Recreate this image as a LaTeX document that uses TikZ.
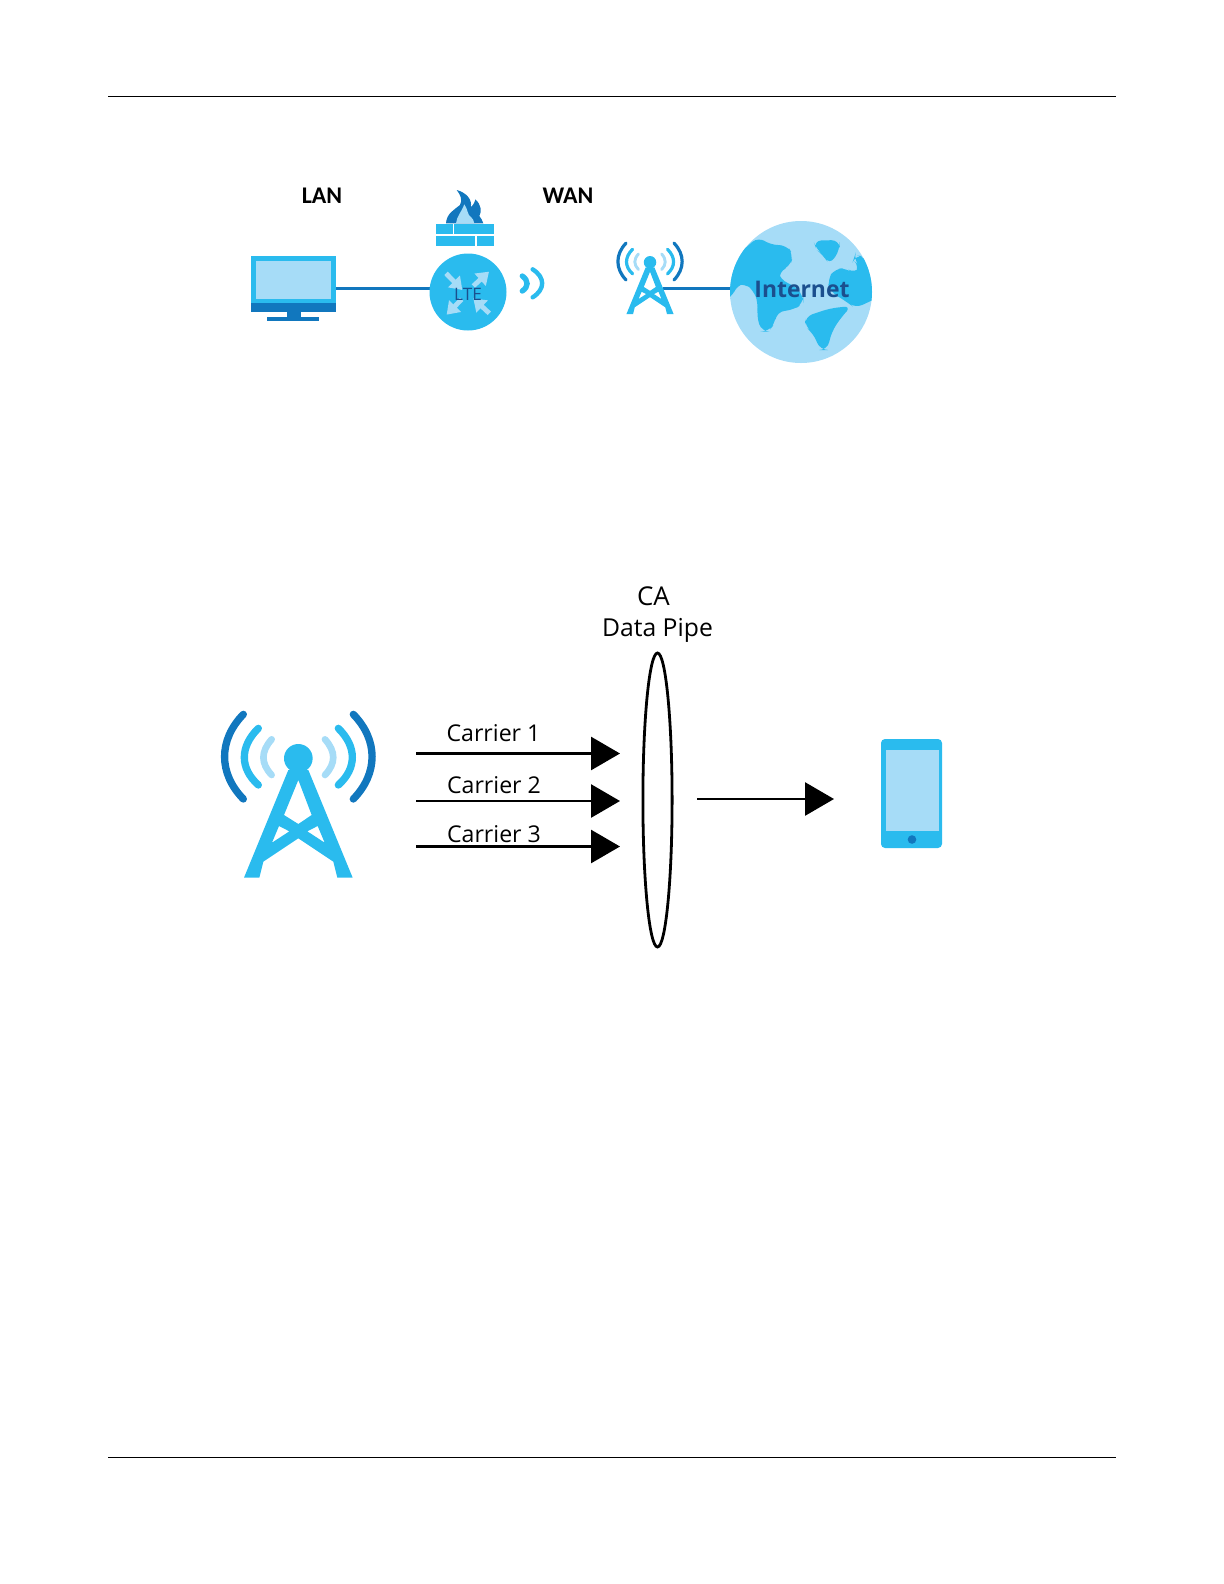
\documentclass[tikz,border=0pt]{standalone}
\usepackage{fontspec}
\setmainfont{Open Sans}
\newfontfamily\lanfont{Carlito}
\usetikzlibrary{arrows.meta,shapes.geometric}
\definecolor{zcyan}{HTML}{2ABBEE}
\definecolor{zdark}{HTML}{1177BE}
\definecolor{zlight}{HTML}{A6DCF7}
\definecolor{ztext}{HTML}{1B4F8E}
\tikzset{
  rule/.style={draw=black,line width=0.5bp},
  link/.style={draw=zdark,line width=1.5bp},
  bigarrow/.style={draw=black,line width=1.4bp,-{Triangle[length=14.5bp,width=16.5bp]}},
  smallicon/.style={shift={(#1)},x=0.16667bp,y=-0.16667bp},
  netlabel/.style={inner sep=0pt,text=black,font=\lanfont\bfseries\fontsize{12}{14}\selectfont},
  calabel/.style={inner sep=0pt,text=black,font=\fontsize{11.6}{14}\selectfont},
  ltearrow/.style={draw=zlight,line width=2.4bp,-{Triangle[length=6bp,width=8bp]}},
}
\newcommand{\towericon}[3]{%
  \begin{scope}[shift={(#1,#2)},x=#3*0.5bp,y=-#3*0.5bp,line cap=round]
    \fill[zcyan,even odd rule] (265,240)--(132,563)--(178,563)--(190,515)--(295,445)--(400,515)--(412,563)--(458,563)--(325,240)--cycle
      (295,270)--(335,375)--(295,402)--(252,375)--cycle
      (237,408)--(268,424)--(216,458)--cycle
      (353,408)--(322,424)--(374,458)--cycle;
    \fill[zcyan] (295,205) circle[radius=43];
    \draw[zdark,line width={#3*11bp}] (130,73) .. controls (55,150) and (55,250) .. (130,327);
    \draw[zdark,line width={#3*11bp}] (460,73) .. controls (535,150) and (535,250) .. (460,327);
    \draw[zcyan,line width={#3*11bp}] (175,115) .. controls (119,170) and (119,235) .. (175,285);
    \draw[zcyan,line width={#3*11bp}] (415,115) .. controls (471,170) and (471,235) .. (415,285);
    \draw[zlight,line width={#3*10bp}] (215,148) .. controls (182,185) and (182,220) .. (215,255);
    \draw[zlight,line width={#3*10bp}] (375,148) .. controls (408,185) and (408,220) .. (375,255);
  \end{scope}}
\begin{document}
\begin{tikzpicture}[x=0.5bp,y=-0.5bp]
\useasboundingbox (0,0) rectangle (1224,1584);
\coordinate (ruleTopL) at (108,96); \coordinate (ruleTopR) at (1116,96);
\coordinate (ruleBotL) at (108,1457.5); \coordinate (ruleBotR) at (1116,1457.5);
\draw[rule] (ruleTopL)--(ruleTopR);
\draw[rule] (ruleBotL)--(ruleBotR);

% labels
\node[netlabel] (lan) at (322,196) {LAN};
\node[netlabel] (wan) at (568,196) {WAN};

% connectors (below the icons)
\coordinate (monR) at (336,288);
\coordinate (lteL) at (432,288);
\coordinate (towR) at (663,288);
\coordinate (gloL) at (734,288);
\draw[link] (monR)--(lteL);
\draw[link] (towR)--(gloL);

% monitor
\fill[zcyan] (251,256) rectangle (336,303);
\fill[zlight] (256,261) rectangle (331,299);
\fill[zdark] (251,303) rectangle (336,312);
\fill[zdark] (287,312) rectangle (301,317);
\fill[zdark] (267,317) rectangle (319,321);

% firewall
\fill[zcyan] (436,223.5) rectangle (452.5,234);
\fill[zcyan] (454,223.5) rectangle (494,234);
\fill[zcyan] (436,236) rectangle (474.5,246);
\fill[zcyan] (476.5,236) rectangle (494,246);
\begin{scope}[smallicon={230,170}]
  \fill[zdark] (648,160) .. controls (650,130) and (672,120) .. (690,105)
     .. controls (698,90) and (692,75) .. (680,60)
     .. controls (710,68) and (728,90) .. (722,112)
     .. controls (730,105) and (735,95) .. (736,88)
     .. controls (755,105) and (755,125) .. (748,138)
     .. controls (752,145) and (758,150) .. (760,160) -- cycle;
  \fill[zlight] (678,160) .. controls (680,140) and (695,125) .. (703,103)
     .. controls (715,120) and (712,135) .. (722,140)
     .. controls (728,145) and (732,152) .. (733,160) -- cycle;
\end{scope}

% LTE router
\node[circle,fill=zcyan,minimum size=38.5bp,inner sep=0pt] (lte) at (468,292) {};
\begin{scope}[smallicon={230,170}]
  \draw[ltearrow] (648,310)--(697,360);
  \draw[ltearrow] (730,348)--(777,305);
  \draw[ltearrow] (695,388)--(650,434);
  \draw[ltearrow] (778,430)--(730,385);
  \draw[zcyan,line width=2.7bp,line cap=round] (877,318) .. controls (896,332) and (896,350) .. (877,363);
  \draw[zcyan,line width=2.2bp,line cap=round] (908,298) .. controls (946,322) and (946,358) .. (908,382);
\end{scope}
\node[inner sep=0pt,text=ztext,font=\fontsize{8.6}{10}\selectfont] (ltetext) at (468,294) {LTE};

% small tower
\towericon{607.2}{232.5}{0.1452}

% globe
\node[circle,fill=zlight,minimum size=71bp,inner sep=0pt] (globe) at (801,292) {};
\begin{scope}
  \clip (801,292) circle[radius=71];
  \begin{scope}[smallicon={590,200},rounded corners=4bp]
    \fill[zcyan] (400,300)--(425,180)--(505,110)--(540,135)--(590,135)--(610,165)--(600,200)--(565,215)--(570,240)--(610,255)--(640,285)--(640,310)--(610,330)--(560,335)--(555,370)--(535,395)--(515,395)--(500,350)--(505,310)--(490,270)--(465,250)--(440,255)--(425,295)--cycle;
    \fill[zcyan] (670,122)--(748,120)--(750,150)--(718,195)--(700,165)--(680,150)--cycle;
    \fill[zcyan] (795,165)--(825,170)--(870,260)--(870,290)--(795,325)--(770,305)--(720,275)--(712,240)--(735,205)--(770,205)--(795,222)--(810,200)--(790,180)--cycle;
    \fill[zcyan] (645,350)--(720,325)--(785,318)--(755,350)--(725,395)--(712,450)--(690,450)--(670,400)--(645,380)--cycle;
  \end{scope}
\end{scope}
\node[inner sep=0pt,text=ztext,font=\bfseries\fontsize{11.5}{14}\selectfont] (internet) at (802,289.5) {Internet};

% big tower
\towericon{200}{690}{0.33333}

% carrier arrows
\coordinate (c1s) at (416,753.5); \coordinate (c1e) at (620,753.5);
\coordinate (c2s) at (416,801); \coordinate (c2e) at (620,801);
\coordinate (c3s) at (416,846.5); \coordinate (c3e) at (620,846.5);
\coordinate (outs) at (697,799); \coordinate (oute) at (834,799);
\draw[bigarrow] (c1s)--(c1e);
\draw[bigarrow] (c2s)--(c2e);
\draw[bigarrow] (c3s)--(c3e);
\draw[bigarrow] (outs)--(oute);
\node[calabel] (car1) at (493.5,733.5) {Carrier 1};
\node[calabel] (car2) at (494,785) {Carrier 2};
\node[calabel] (car3) at (494,834) {Carrier 3};

% CA pipe
\node[ellipse,draw=black,line width=1.4bp,minimum width=14.6bp,minimum height=147bp,inner sep=0pt] (pipe) at (657.5,800) {};
\node[calabel,font=\fontsize{13}{15}\selectfont] (ca) at (653.5,596) {CA};
\node[calabel,font=\fontsize{12.4}{15}\selectfont] (dp) at (657.5,630) {Data Pipe};

% phone
\fill[zcyan,rounded corners=2bp] (881,739) rectangle (942,848);
\fill[zlight] (886,750) rectangle (939,831);
\fill[zdark] (912,839.5) circle[radius=4.3];
\end{tikzpicture}
\end{document}
